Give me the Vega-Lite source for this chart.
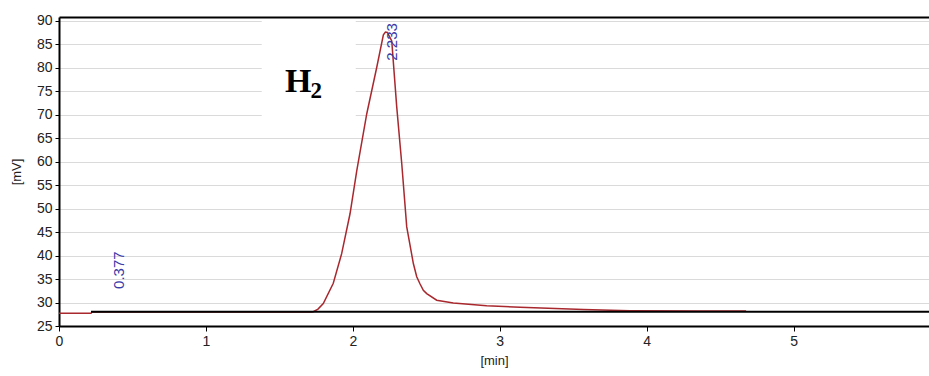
{
  "$schema": "https://vega.github.io/schema/vega-lite/v6.json",
  "width": 870,
  "height": 309,
  "autosize": {"type": "none"},
  "padding": {"left": 59, "top": 17, "right": 0, "bottom": 50},
  "background": "white",
  "config": {
    "view": {"stroke": null},
    "font": "Liberation Sans",
    "axis": {"gridColor": "#dadada", "gridWidth": 1, "domainColor": "#000", "domainWidth": 2, "tickColor": "#000", "labelFontSize": 14, "labelColor": "#222", "labelOverlap": false, "titleFontSize": 13, "titleFontWeight": "normal", "titleColor": "#222"},
    "axisY": {"tickSize": 4, "labelPadding": 3, "titlePadding": 13, "grid": true},
    "axisBottom": {"tickSize": 5, "labelPadding": 3, "titlePadding": 6, "grid": true, "labelFlush": false},
    "axisTop": {"labels": false, "ticks": false, "grid": false}
  },
  "resolve": {"axis": {"x": "independent"}},
  "layer": [
    {
      "data": {"values": [{"x1": 1.38, "x2": 2.02, "y1": 68.8, "y2": 90.4}]},
      "mark": {"type": "rect", "fill": "white"},
      "encoding": {
        "x": {"field": "x1", "type": "quantitative", "scale": {"domain": [0, 5.922], "nice": false, "zero": false},
          "axis": {"orient": "top", "title": null, "zindex": 2}},
        "x2": {"field": "x2"},
        "y": {"field": "y1", "type": "quantitative", "title": "[mV]", "scale": {"domain": [25, 90.8], "nice": false, "zero": false},
          "axis": {"values": [25, 30, 35, 40, 45, 50, 55, 60, 65, 70, 75, 80, 85, 90]}},
        "y2": {"field": "y2"}
      }
    },
    {
      "data": {"values": [
        {"t": 0.0, "mV": 27.7}, {"t": 0.218, "mV": 27.7}, {"t": 0.225, "mV": 28.0}, {"t": 1.0, "mV": 28.0},
        {"t": 1.72, "mV": 28.0}, {"t": 1.731, "mV": 28.04}, {"t": 1.763, "mV": 28.6}, {"t": 1.799, "mV": 29.8},
        {"t": 1.867, "mV": 34.1}, {"t": 1.924, "mV": 40.4}, {"t": 1.981, "mV": 48.9}, {"t": 2.027, "mV": 58.1},
        {"t": 2.095, "mV": 70.2}, {"t": 2.163, "mV": 80.1}, {"t": 2.208, "mV": 87.0}, {"t": 2.222, "mV": 87.6},
        {"t": 2.235, "mV": 87.5}, {"t": 2.265, "mV": 85.7}, {"t": 2.299, "mV": 71.6}, {"t": 2.333, "mV": 59.6},
        {"t": 2.367, "mV": 46.1}, {"t": 2.412, "mV": 38.3}, {"t": 2.435, "mV": 35.5}, {"t": 2.457, "mV": 34.0},
        {"t": 2.48, "mV": 32.6}, {"t": 2.503, "mV": 31.9}, {"t": 2.571, "mV": 30.5}, {"t": 2.684, "mV": 29.9},
        {"t": 2.911, "mV": 29.3}, {"t": 3.138, "mV": 29.0}, {"t": 3.569, "mV": 28.5}, {"t": 3.886, "mV": 28.25},
        {"t": 4.363, "mV": 28.2}, {"t": 4.677, "mV": 28.2}
      ]},
      "mark": {"type": "line", "color": "#a8282e", "strokeWidth": 1.5, "interpolate": "linear"},
      "encoding": {
        "x": {"field": "t", "type": "quantitative", "scale": {"domain": [0, 5.922], "nice": false, "zero": false},
          "axis": {"orient": "bottom", "values": [0, 1, 2, 3, 4, 5], "title": "[min]"}},
        "y": {"field": "mV", "type": "quantitative", "title": "[mV]",
          "axis": {"values": [25, 30, 35, 40, 45, 50, 55, 60, 65, 70, 75, 80, 85, 90]}}
      }
    },
    {
      "data": {"values": [{"t": 0.218, "mV": 28.05}, {"t": 5.922, "mV": 28.05}]},
      "mark": {"type": "line", "color": "#000", "strokeWidth": 2},
      "encoding": {
        "x": {"field": "t", "type": "quantitative", "axis": null},
        "y": {"field": "mV", "type": "quantitative", "title": "[mV]",
          "axis": {"values": [25, 30, 35, 40, 45, 50, 55, 60, 65, 70, 75, 80, 85, 90]}}
      }
    },
    {
      "data": {"values": [{"t": 0.377, "mV": 32.9, "label": "0.377"}, {"t": 2.233, "mV": 81.5, "label": "2.233"}]},
      "mark": {"type": "text", "angle": 270, "align": "left", "baseline": "middle", "dy": 5, "fontSize": 15, "color": "#3a3aa8", "font": "Liberation Sans"},
      "encoding": {
        "x": {"field": "t", "type": "quantitative", "axis": null},
        "y": {"field": "mV", "type": "quantitative", "title": "[mV]",
          "axis": {"values": [25, 30, 35, 40, 45, 50, 55, 60, 65, 70, 75, 80, 85, 90]}},
        "text": {"field": "label"}
      }
    },
    {
      "data": {"values": [{"t": 1.538, "mV": 74.9, "label": "H"}]},
      "mark": {"type": "text", "align": "left", "baseline": "alphabetic", "fontSize": 34, "fontWeight": "bold", "font": "Liberation Serif", "color": "#000"},
      "encoding": {
        "x": {"field": "t", "type": "quantitative", "axis": null},
        "y": {"field": "mV", "type": "quantitative", "title": "[mV]",
          "axis": {"values": [25, 30, 35, 40, 45, 50, 55, 60, 65, 70, 75, 80, 85, 90]}},
        "text": {"field": "label"}
      }
    },
    {
      "data": {"values": [{"t": 1.712, "mV": 73.6, "label": "2"}]},
      "mark": {"type": "text", "align": "left", "baseline": "alphabetic", "fontSize": 23, "fontWeight": "bold", "font": "Liberation Serif", "color": "#000"},
      "encoding": {
        "x": {"field": "t", "type": "quantitative", "axis": null},
        "y": {"field": "mV", "type": "quantitative", "title": "[mV]",
          "axis": {"values": [25, 30, 35, 40, 45, 50, 55, 60, 65, 70, 75, 80, 85, 90]}},
        "text": {"field": "label"}
      }
    }
  ]
}
